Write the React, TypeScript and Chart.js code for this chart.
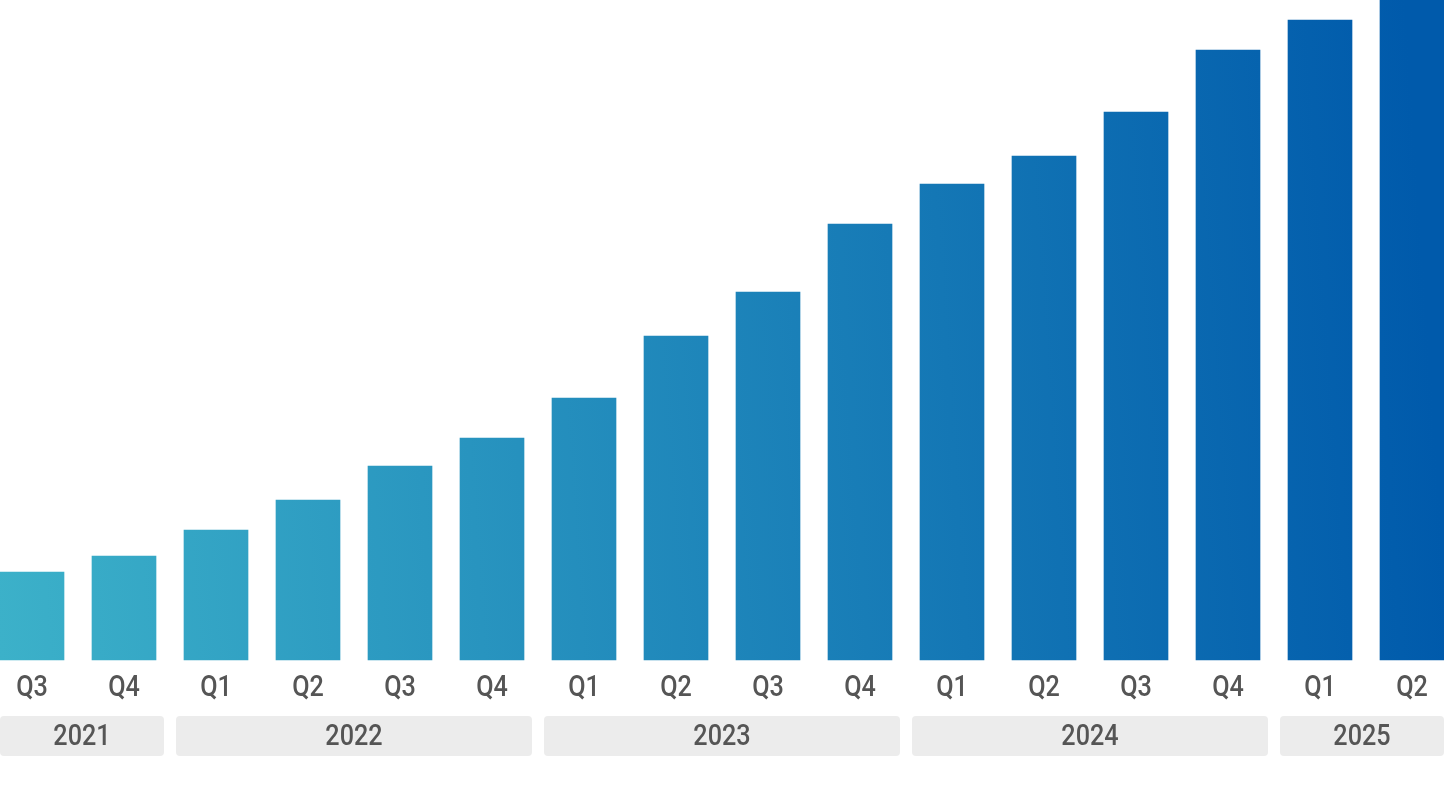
import React, { useEffect, useRef } from "react";
import { Chart, registerables } from "chart.js";

Chart.register(...registerables);

const quarters = ["Q3", "Q4", "Q1", "Q2", "Q3", "Q4", "Q1", "Q2", "Q3", "Q4", "Q1", "Q2", "Q3", "Q4", "Q1", "Q2"];
const values = [88, 104, 130, 160, 194, 222, 262, 324, 368, 436, 476, 504, 548, 610, 640, 660];
const yearLabels = ["2021", "2022", "2023", "2024", "2025"];
const yearCounts = [2, 4, 4, 4, 2];

const FONT = "Roboto, 'DejaVu Sans Condensed', sans-serif";
const SX = 0.84;

function drawText(ctx: any, text: string, cx: number, baseline: number) {
  ctx.save();
  ctx.translate(cx, baseline);
  ctx.scale(SX, 1);
  ctx.fillText(text, 0, 0);
  ctx.restore();
}

const labelsPlugin = {
  id: "labelsPlugin",
  afterDraw(chart: any) {
    const ctx = chart.ctx;
    const x = chart.scales.x;
    const W = chart.width;
    ctx.save();
    ctx.font = `500 30px ${FONT}`;
    ctx.textAlign = "center";
    ctx.textBaseline = "alphabetic";
    ctx.fillStyle = "#555555";
    (chart.data.labels as string[]).forEach((q, i) => {
      drawText(ctx, q, x.getPixelForValue(i), 696);
    });
    let idx = 0;
    yearLabels.forEach((label, i) => {
      const start = idx;
      const end = idx + yearCounts[i] - 1;
      idx += yearCounts[i];
      let x1 = x.getPixelForValue(start) - 40;
      let x2 = x.getPixelForValue(end) + 40;
      x1 = Math.max(0, x1);
      x2 = Math.min(W, x2);
      const y1 = 716;
      const h = 40;
      ctx.fillStyle = "#ececec";
      ctx.beginPath();
      ctx.roundRect(x1, y1, x2 - x1, h, 4);
      ctx.fill();
      ctx.fillStyle = "#555555";
      drawText(ctx, label, (x1 + x2) / 2, 745);
    });
    ctx.restore();
  },
};

export default function App() {
  const ref = useRef<HTMLCanvasElement>(null);
  useEffect(() => {
    document.body.style.margin = "0";
    const chart = new Chart(ref.current as HTMLCanvasElement, {
      type: "bar",
      data: {
        labels: quarters,
        datasets: [
          {
            data: values,
            barThickness: 64,
            clip: false as any,
            backgroundColor: (c: any) => {
              const ch = c.chart;
              const g = ch.ctx.createLinearGradient(0, 660, 1444, 560);
              g.addColorStop(0, "#3cb1c9");
              g.addColorStop(1, "#005aab");
              return g;
            },
          },
        ],
      },
      options: {
        animation: false,
        responsive: false,
        maintainAspectRatio: false,
        layout: { padding: { left: 32, right: 32, top: 0, bottom: 0 } },
        plugins: { legend: { display: false }, tooltip: { enabled: false } },
        scales: {
          x: {
            type: "category",
            offset: false,
            border: { display: false },
            grid: { display: false, drawTicks: false },
            ticks: { display: false, autoSkip: false },
            afterFit: (s: any) => {
              s.height = 132;
            },
          },
          y: {
            display: false,
            min: 0,
            max: 660,
          },
        },
      },
      plugins: [labelsPlugin],
    });
    return () => chart.destroy();
  }, []);
  return (
    <div style={{ width: 1444, height: 792 }}>
      <canvas ref={ref} width={1444} height={792} style={{ display: "block" }} />
    </div>
  );
}
